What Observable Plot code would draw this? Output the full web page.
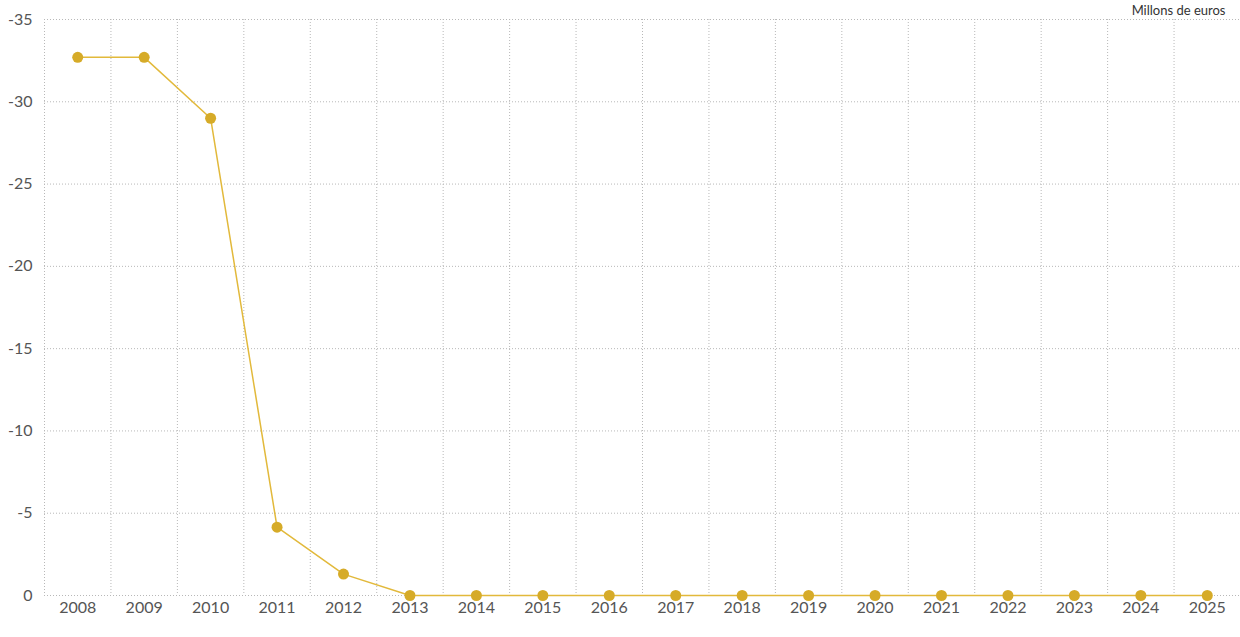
<!DOCTYPE html>
<html>
<head>
<meta charset="utf-8">
<script src="https://cdn.jsdelivr.net/npm/d3@7"></script>
<script src="https://cdn.jsdelivr.net/npm/@observablehq/plot@0.6"></script>
<style>
  html, body { margin: 0; padding: 0; background: #fff; }
  #chart { width: 1240px; height: 637px; }
</style>
</head>
<body>
<div id="chart"></div>
<script>
const years = [2008, 2009, 2010, 2011, 2012, 2013, 2014, 2015, 2016, 2017, 2018, 2019, 2020, 2021, 2022, 2023, 2024, 2025];
const values = [-32.7, -32.7, -29.0, -4.15, -1.3, 0, 0, 0, 0, 0, 0, 0, 0, 0, 0, 0, 0, 0];
const yTicks = [-35, -30, -25, -20, -15, -10, -5, 0];
const unitLabel = "Millons de euros";

const data = years.map((y, i) => ({ year: y, value: values[i] }));
const bandEdges = [years[0] - 0.5, ...years.map(y => y + 0.5)];

const gridStyle = { stroke: "#b8b8b8", strokeWidth: 1, strokeDasharray: "1,2" };

const chart = Plot.plot({
  width: 1240,
  height: 637,
  marginLeft: 44,
  marginRight: 0,
  marginTop: 19,
  marginBottom: 42,
  style: { fontFamily: "Lato, 'Open Sans', sans-serif", fontSize: "15px", color: "#555", background: "#fff" },
  x: { domain: [years[0] - 0.5, years[years.length - 1] + 0.5], axis: null },
  y: { domain: [0, -35], axis: null },
  marks: [
    Plot.ruleX(bandEdges, { ...gridStyle }),
    Plot.ruleY(yTicks, { ...gridStyle }),
    Plot.axisY(yTicks, { label: null, tickSize: 0, tickPadding: 12, fontSize: 16, fill: "#555", tickFormat: d => String(d) }),
    Plot.axisX(years, { label: null, tickSize: 0, tickPadding: 6, fontSize: 16, fill: "#555", tickFormat: d => String(d), style: "letter-spacing:0.5px" }),
    Plot.line(data, { x: "year", y: "value", stroke: "#e2b93b", strokeWidth: 1.5 }),
    Plot.dot(data, { x: "year", y: "value", r: 5.5, fill: "#d6ab28", stroke: "none" }),
    Plot.text([unitLabel], { frameAnchor: "top-right", dx: -15, dy: -14, fontSize: 13, fill: "#333", text: d => d, textAnchor: "end", style: "letter-spacing:0.6px" })
  ]
});
document.getElementById("chart").appendChild(chart);
</script>
</body>
</html>
